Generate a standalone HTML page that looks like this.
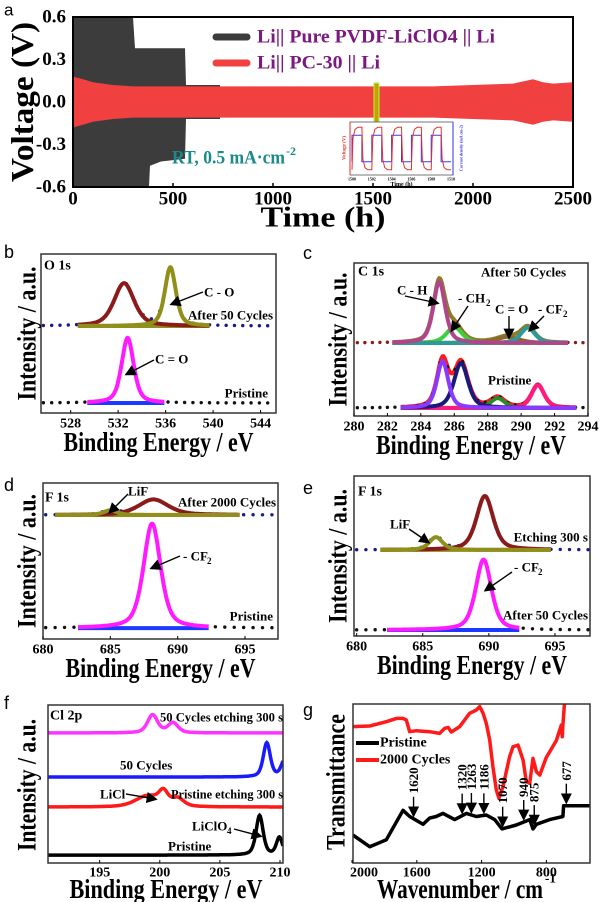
<!DOCTYPE html>
<html><head><meta charset="utf-8"><style>
html,body{margin:0;padding:0;background:#fff;}
svg{display:block;font-family:"Liberation Serif",serif;font-weight:bold;}
.sans{font-family:"Liberation Sans",sans-serif;font-weight:normal;}
</style></head><body>
<svg id="fig" width="606" height="902" viewBox="0 0 606 902" xmlns="http://www.w3.org/2000/svg">
<defs><marker id="ah" markerWidth="8" markerHeight="8" refX="6" refY="4" orient="auto"><path d="M0,0 L8,4 L0,8 Z" fill="#000"/></marker></defs>
</svg>
<script>
// ---------- Panel a data ----------
const aBlackT=[0,30,100,200,300,310,380,385,440,560,565,650,735];
const aBlackUp=[0.6,0.6,0.6,0.6,0.6,0.38,0.38,0.38,0.38,0.38,0.12,0.12,0.12];
const aBlackLo=[-0.6,-0.6,-0.6,-0.6,-0.6,-0.6,-0.6,-0.45,-0.42,-0.4,-0.12,-0.12,-0.12];
const aRedT=[0,50,100,200,300,500,700,1000,1300,1500,1800,2000,2200,2300,2350,2400,2500];
const aRedAmp=[0.18,0.16,0.14,0.12,0.11,0.11,0.11,0.11,0.11,0.11,0.11,0.12,0.13,0.16,0.14,0.13,0.14];
const aXTicks=[0,500,1000,1500,2000,2500];
const aYTicks=[0.6,0.3,0.0,-0.3,-0.6];
const insetCycT=[0,0.1,0.3,0.6,1.0,1.1,1.3,1.6,2.0];
const insetCycV=[-0.2,0.1,0.18,0.2,0.2,-0.1,-0.18,-0.2,-0.2];
const insetCurT=[0,0,1,1,2];
const insetCurV=[-0.5,0.5,0.5,-0.5,-0.5];
// ---------- Panel b (O 1s) ----------
const bTicks=[528,532,536,540,544];
const bUpPeaks=[{c:532.5,h:27,w:1.0,col:"#8b1a1a"},{c:536.4,h:37,w:0.55,col:"#8f8f1a"}];
const bUpBase=54.7;
const bLoPeaks=[{c:532.8,h:41,w:0.6,col:"#ff1aff"}];
const bLoBase=6.3;
// ---------- Panel c (C 1s) ----------
const cTicks=[280,282,284,286,288,290,292,294];
const cUpPeaks=[{c:286.0,h:10.5,w:0.55,col:"#3ccf3c"},{c:289.2,h:4,w:0.8,col:"#8a6a2a"},{c:290.4,h:10,w:0.5,col:"#2a9a9a"},{c:285.1,h:40,w:0.42,col:"#b0468a"}];
const cUpBase=47.7;
const cLoPeaks=[{c:288.6,h:6.5,w:0.5,col:"#2a8a2a"},{c:291.0,h:15,w:0.45,col:"#ff1a80"},{c:286.4,h:29.4,w:0.5,col:"#1a1a7a"},{c:285.3,h:30.7,w:0.4,col:"#8a3aff"}];
const cLoBase=5.2;
// ---------- Panel d (F 1s) ----------
const dTicks=[680,685,690,695];
const dUpPeaks=[{c:688.2,h:10,w:1.3,col:"#8b1a1a"},{c:685.0,h:3,w:0.6,col:"#8f8f1a"}];
const dUpBase=79.5;
const dLoPeaks=[{c:688.1,h:67,w:0.75,col:"#ff1aff"}];
const dLoBase=7;
// ---------- Panel e (F 1s) ----------
const eTicks=[680,685,690,695];
const eUpPeaks=[{c:689.7,h:33.7,w:0.75,col:"#8b1a1a"},{c:686.0,h:8,w:0.6,col:"#8f8f1a"}];
const eUpBase=53.8;
const eLoPeaks=[{c:689.6,h:44,w:0.7,col:"#ff1aff"}];
const eLoBase=3.75;
// ---------- Panel f (Cl 2p) ----------
const fTicks=[195,200,205,210];
const fSeries=[
 {name:"50-cycles-etching",col:"#ff33ff",base:82.3,peaks:[{c:199.4,h:11.4,w:0.5},{c:201.1,h:6.3,w:0.5}]},
 {name:"50-cycles",col:"#1a1aff",base:54.4,peaks:[{c:208.9,h:21.5,w:0.35},{c:210.4,h:11,w:0.35}]},
 {name:"pristine-etching",col:"#ff1a1a",base:35.4,peaks:[{c:199.0,h:7,w:1.2},{c:200.3,h:8,w:0.45},{c:201.5,h:5,w:0.6}]},
 {name:"pristine",col:"#000",base:5,peaks:[{c:208.3,h:25,w:0.35},{c:209.95,h:11,w:0.3}]}
];
// ---------- Panel g (FTIR) ----------
const gTicks=[2000,1600,1200,800];
const gBlackX=[1994,1891,1788,1685,1644,1562,1521,1480,1438,1366,1294,1233,1171,1119,1074,986,903,883,862,780,698,694,533];
const gBlackT=[18,10.5,15,34,30,25,29,30,32,28,32,30,31,28,22,24.5,28,22,25,28,30,37,37];
const gRedX=[1994,1891,1788,1726,1685,1665,1644,1603,1521,1459,1428,1407,1387,1335,1274,1233,1212,1191,1171,1150,1130,1109,1093,1068,1027,1006,975,944,924,903,883,862,841,801,739,708,702,698,687];
const gRedT=[88,88.4,91.2,93.3,93.3,92.3,84.7,85.4,84.7,83.6,86.9,87.5,84.5,88,96.6,98.7,100.9,96.6,90.1,79.4,62.2,47.2,41.8,49.3,68.6,75,76.1,66.4,52.5,51.4,67.5,58.9,56.8,68,79,89,81.5,89,105];
const gMarks=[1620,1320,1263,1186,1070,940,875,677];

const NS="http://www.w3.org/2000/svg";
const svg=document.getElementById('fig');
function el(tag,attrs,parent){const e=document.createElementNS(NS,tag);for(const k in attrs)e.setAttribute(k,attrs[k]);(parent||svg).appendChild(e);return e;}
function txt(s,x,y,size,name,opts){opts=opts||{};const t=el('text',{x:x,y:y,'font-size':size,'dominant-baseline':'central','text-anchor':opts.anchor||'start',fill:opts.fill||'#000'},opts.parent);
 if(opts.len){t.setAttribute('textLength',opts.len);t.setAttribute('lengthAdjust','spacingAndGlyphs');}
 if(opts.rot)t.setAttribute('transform','rotate(-90 '+x+' '+y+')');
 if(opts.cls)t.setAttribute('class',opts.cls);
 t.textContent=s;
 
 
 return t;}
function lin(d0,d1,r0,r1){return v=>r0+(v-d0)*(r1-r0)/(d1-d0);}
function pk(x,p){const z=(x-p.c)/p.w;return p.h*(0.5*Math.exp(-0.693*z*z)+0.5/(1+z*z));}
function pathFrom(xs,ys){return xs.map((x,i)=>(i?'L':'M')+x.toFixed(1)+','+ys[i].toFixed(1)).join(' ');}
function clip(id,x0,y0,x1,y1){const c=el('clipPath',{id:id});el('rect',{x:x0,y:y0,width:x1-x0,height:y1-y0},c);}

// ---------- Panel a ----------
(function(){
 const X0=73,X1=573,Y0=17,Y1=187;
 const x=lin(0,2500,X0,X1), y=lin(-0.6,0.6,Y1,Y0);
 clip('clipA',X0,Y0,X1,Y1);
 const g=el('g',{'clip-path':'url(#clipA)'});
 
 
 const bx=aBlackT.map(x), bu=aBlackUp.map(y), bl=aBlackLo.map(y);
 const bp=el('path',{d:pathFrom(bx,bu)+' '+pathFrom(bx.slice().reverse(),bl.slice().reverse()).replace('M','L')+' Z',fill:'#3c3c3c'},g);
 
 
 const rx=aRedT.map(x), ru=aRedAmp.map(v=>y(v)), rl=aRedAmp.map(v=>y(-v));
 const rp=el('path',{d:pathFrom(rx,ru)+' '+pathFrom(rx.slice().reverse(),rl.slice().reverse()).replace('M','L')+' Z',fill:'#f04040'},g);
 
 
 const hl=el('rect',{x:x(1505),y:83,width:5,height:39,fill:'#c8a000',stroke:'#a0ff40','stroke-width':1});
 
 
 const fr=el('rect',{x:X0,y:Y0,width:X1-X0,height:Y1-Y0,fill:'none',stroke:'#000','stroke-width':2});
 
 
 aXTicks.forEach(v=>{const t=el('line',{x1:x(v),x2:x(v),y1:Y1,y2:Y1-4,stroke:'#000','stroke-width':1.5});
  
  txt(String(v),x(v),199,19,'x-tick-label',{anchor:'middle'});});
 aYTicks.forEach(v=>{txt(v.toFixed(1),66,y(v),19,'y-tick-label',{anchor:'end'});});
 txt('Voltage (V)',22,102,32,'y-axis-title',{anchor:'middle',rot:true,len:160});
 txt('Time (h)',323,218,28,'x-axis-title',{anchor:'middle',len:125});
 txt('a',4,10,17,'panel-label-a',{cls:'sans'});
 // legend
 const l1=el('line',{x1:216,x2:247,y1:37,y2:37,stroke:'#3c3c3c','stroke-width':7,'stroke-linecap':'round'});
 
 const l2=el('line',{x1:216,x2:247,y1:63,y2:63,stroke:'#f04040','stroke-width':7,'stroke-linecap':'round'});
 
 txt('Li|| Pure PVDF-LiClO4 || Li',257,37,19,'legend-entry-pure-pvdf',{fill:'#7a1a80',len:238});
 txt('Li|| PC-30 || Li',257,63,19,'legend-entry-pc30',{fill:'#7a1a80',len:123});
 txt('RT, 0.5 mA·cm',172,158,19,'condition-label',{fill:'#1a8a8a',len:113});
 txt('-2',286,151,12,'condition-superscript',{fill:'#1a8a8a'});
 // inset
 const IX0=350,IX1=453,IY0=122,IY1=175;
 const ig=el('g',{});
 el('rect',{x:IX0,y:IY0,width:IX1-IX0,height:IY1-IY0,fill:'#fff',stroke:'#555','stroke-width':0.8},ig);
 el('line',{x1:IX0,x2:IX0,y1:IY0,y2:IY1,stroke:'#e03030','stroke-width':1},ig);
 el('line',{x1:IX1,x2:IX1,y1:IY0,y2:IY1,stroke:'#3030e0','stroke-width':1},ig);
 const ix=lin(1500,1510,IX0+2,IX1-2), iy=lin(-0.25,0.25,IY1,IY0), ic=lin(-1,1,IY1,IY0);
 let rxs=[],rys=[],cxs=[],cys=[];
 for(let k=0;k<5;k++){insetCycT.forEach((t,i)=>{rxs.push(ix(1500+2*k+t));rys.push(iy(insetCycV[i]));});
  insetCurT.forEach((t,i)=>{cxs.push(ix(1500+2*k+t));cys.push(ic(insetCurV[i]));});}
 const ib=el('path',{d:pathFrom(cxs,cys),fill:'none',stroke:'#3a3ae0','stroke-width':1},ig);
 
 const ir=el('path',{d:pathFrom(rxs,rys),fill:'none',stroke:'#e83030','stroke-width':1},ig);
 
 ['1500','1502','1504','1506','1508','1510'].forEach((s,i)=>txt(s,ix(1500+2*i),179,4,'inset-tick-label',{anchor:'middle',parent:ig}));
 txt('Time (h)',(IX0+IX1)/2,185,6,'inset-x-title',{anchor:'middle',parent:ig});
 txt('Voltage (V)',IX0-5,148,5,'inset-y-title',{anchor:'middle',rot:true,fill:'#e03030',parent:ig});
 txt('Current density (mA cm-2)',IX1+8,148,4,'inset-y2-title',{anchor:'middle',rot:true,fill:'#3030e0',parent:ig});
})();

// ---------- XPS panel builder ----------
function xps(o){
 const x=lin(o.d0,o.d1,o.X0,o.X1), y=lin(0,100,o.Y1,o.Y0);
 const id='clip'+o.key;clip(id,o.X0,o.Y0,o.X1,o.Y1);
 const g=el('g',{'clip-path':'url(#'+id+')'});
 
 
 o.stacks.forEach(st=>{
  const sum=v=>st.base+st.peaks.reduce((a,p)=>a+pk(v,p),0);
  for(let v=o.d0+0.2;v<o.d1;v+=st.dotStep){const c=el('circle',{cx:x(v),cy:y(sum(v)),r:1.7,fill:st.dotCol},g);
   }
  const bl=el('line',{x1:x(st.from),x2:x(st.to),y1:y(st.base),y2:y(st.base),stroke:st.baseCol,'stroke-width':4},g);
  
  st.peaks.forEach(p=>{const xs=[],ys=[];for(let v=st.from;v<=st.to+1e-6;v+=0.05){xs.push(x(v));ys.push(y(st.base+pk(v,p)));}
   const pp=el('path',{d:pathFrom(xs,ys),fill:'none',stroke:p.col,'stroke-width':4,'stroke-linejoin':'round'},g);
   });
  if(st.sumCol){const xs=[],ys=[];for(let v=st.from;v<=st.to+1e-6;v+=0.05){xs.push(x(v));ys.push(y(sum(v)));}
   const sp=el('path',{d:pathFrom(xs,ys),fill:'none',stroke:st.sumCol,'stroke-width':4},g);
   
   g.insertBefore(sp,g.querySelector('path'));}
 });
 const fr=el('rect',{x:o.X0,y:o.Y0,width:o.X1-o.X0,height:o.Y1-o.Y0,fill:'none',stroke:'#333','stroke-width':1.5});
 
 o.ticks.forEach(v=>{const t=el('line',{x1:x(v),x2:x(v),y1:o.Y1,y2:o.Y1-3,stroke:'#000','stroke-width':1});
  
  txt(String(v),x(v),o.Y1+11,14,'x-tick-label',{anchor:'middle'});});
 txt('Binding Energy / eV',(o.X0+o.X1)/2,o.Y1+29,27,'x-axis-title',{anchor:'middle',len:190});
 txt('Intensity / a.u.',o.yx,(o.Y0+o.Y1)/2,26,'y-axis-title',{anchor:'middle',rot:true,len:134});
 txt(o.key,o.lx,o.ly,18,'panel-label-'+o.key,{cls:'sans'});
 return {x,y};
}
function arrow(x1,y1,x2,y2,name){const a=el('line',{x1:x1,y1:y1,x2:x2,y2:y2,stroke:'#000','stroke-width':1.4,'marker-end':'url(#ah)'});
 }

// b
xps({key:'b',d0:525.5,d1:545.3,X0:41,X1:276,Y0:254,Y1:413,ticks:bTicks,yx:27,lx:4,ly:252,stacks:[
 {base:bUpBase,peaks:bUpPeaks,from:528.6,to:539.7,dotStep:0.7,dotCol:'#1a1a8a',baseCol:'#8f8f1a'},
 {base:bLoBase,peaks:bLoPeaks,from:529.4,to:535.9,dotStep:0.7,dotCol:'#111',baseCol:'#1a3aff'}]});
txt('O 1s',44,266,14,'element-label-o1s');
txt('C - O',204,292,13,'annotation-c-o');arrow(203,292,172,304,'arrow-c-o');
txt('After 50 Cycles',273,315,13,'annotation-after-50-cycles',{anchor:'end'});
txt('C = O',155,359,13,'annotation-c-eq-o');arrow(154,360,127,374,'arrow-c-eq-o');
txt('Pristine',268,393,13,'annotation-pristine',{anchor:'end'});

// c
xps({key:'c',d0:280,d1:294,X0:354,X1:588,Y0:263,Y1:416,ticks:cTicks,yx:338,lx:303,ly:253,stacks:[
 {base:cUpBase,peaks:cUpPeaks,from:282.3,to:292.8,dotStep:0.45,dotCol:'#8b1a1a',baseCol:'#9a7a2a',sumCol:'#8f7a2a'},
 {base:cLoBase,peaks:cLoPeaks,from:282.8,to:293.3,dotStep:0.45,dotCol:'#111',baseCol:'#2a7a2a',sumCol:'#ff1a1a'}]});
txt('C 1s',358,272,14,'element-label-c1s');
txt('After 50 Cycles',566,272,13,'annotation-after-50-cycles',{anchor:'end'});
txt('C - H',397,290,13,'annotation-c-h');arrow(405,296,437,303,'arrow-c-h');
txt('- CH',458,298,13,'annotation-ch2');txt('2',486,303,9,'annotation-ch2-subscript');arrow(468,306,452,330,'arrow-ch2');
txt('C = O',495,309,13,'annotation-c-eq-o');arrow(509,316,509,337,'arrow-c-eq-o');
txt('- CF',538,309,13,'annotation-cf2');txt('2',563,314,9,'annotation-cf2-subscript');arrow(544,316,530,330,'arrow-cf2');
txt('Pristine',488,380,13,'annotation-pristine');

// d
xps({key:'d',d0:680,d1:697.45,X0:43,X1:278,Y0:483,Y1:639,ticks:dTicks,yx:27,lx:4,ly:485,stacks:[
 {base:dUpBase,peaks:dUpPeaks,from:680.9,to:694.6,dotStep:0.7,dotCol:'#1a1a8a',baseCol:'#8f8f1a'},
 {base:dLoBase,peaks:dLoPeaks,from:682.6,to:692.3,dotStep:0.7,dotCol:'#111',baseCol:'#1a3aff'}]});
txt('F 1s',45,498,14,'element-label-f1s');
txt('LiF',128,491,13,'annotation-lif');arrow(128,494,110,512,'arrow-lif');
txt('After 2000 Cycles',276,502,13,'annotation-after-2000-cycles',{anchor:'end'});
txt('- CF',183,556,13,'annotation-cf2');txt('2',207,561,9,'annotation-cf2-subscript');arrow(180,556,152,568,'arrow-cf2');
txt('Pristine',273,616,13,'annotation-pristine',{anchor:'end'});

// e
xps({key:'e',d0:679.8,d1:697.65,X0:354,X1:590,Y0:476,Y1:636,ticks:eTicks,yx:338,lx:303,ly:488,stacks:[
 {base:eUpBase,peaks:eUpPeaks,from:681.8,to:694.7,dotStep:0.7,dotCol:'#1a1a8a',baseCol:'#8f8f1a'},
 {base:eLoBase,peaks:eLoPeaks,from:682.3,to:692.3,dotStep:0.7,dotCol:'#111',baseCol:'#1a3aff'}]});
txt('F 1s',358,492,14,'element-label-f1s');
txt('LiF',390,524,13,'annotation-lif');arrow(409,529,428,542,'arrow-lif');
txt('Etching 300 s',588,537,13,'annotation-etching-300s',{anchor:'end'});
txt('- CF',514,567,13,'annotation-cf2');txt('2',538,572,9,'annotation-cf2-subscript');arrow(512,572,486,590,'arrow-cf2');
txt('After 50 Cycles',588,615,13,'annotation-after-50-cycles',{anchor:'end'});

// ---------- Panel f ----------
(function(){
 const X0=48,X1=283,Y0=705,Y1=863;
 const x=lin(190.7,210.25,X0,X1), y=lin(0,100,Y1,Y0);
 clip('clipF',X0,Y0,X1,Y1);
 const g=el('g',{'clip-path':'url(#clipF)'});
 
 fSeries.forEach(s=>{const xs=[],ys=[];for(let v=190.7;v<=210.3;v+=0.05){xs.push(x(v));ys.push(y(s.base+s.peaks.reduce((a,p)=>a+pk(v,p),0)));}
  const p=el('path',{d:pathFrom(xs,ys),fill:'none',stroke:s.col,'stroke-width':3.5},g);
  });
 const fr=el('rect',{x:X0,y:Y0,width:X1-X0,height:Y1-Y0,fill:'none',stroke:'#333','stroke-width':1.5});
 
 fTicks.forEach(v=>{const t=el('line',{x1:x(v),x2:x(v),y1:Y1,y2:Y1-3,stroke:'#000'});
  
  txt(String(v),x(v),873,14,'x-tick-label',{anchor:'middle'});});
 txt('Binding Energy / eV',166,889,27,'x-axis-title',{anchor:'middle',len:193});
 txt('Intensity / a.u.',27,785,26,'y-axis-title',{anchor:'middle',rot:true,len:132});
 txt('f',4,703,18,'panel-label-f',{cls:'sans'});
 txt('Cl 2p',50,716,14,'element-label-cl2p');
 txt('50 Cycles etching 300 s',160,717,13,'label-50-cycles-etching',{len:123});
 txt('50 Cycles',120,765,13,'label-50-cycles');
 txt('LiCl',100,794,13,'annotation-licl');arrow(126,794,155,799,'arrow-licl');
 txt('Pristine etching 300 s',171,794,13,'label-pristine-etching',{len:112});
 txt('LiClO',192,826,13,'annotation-liclo4');txt('4',227,831,9,'annotation-liclo4-subscript');arrow(234,829,260,836,'arrow-liclo4');
 txt('Pristine',168,846,13,'label-pristine');
})();

// ---------- Panel g ----------
(function(){
 const X0=353,X1=590,Y0=704,Y1=863;
 const x=v=>352+(2000-v)*0.162, y=lin(0,102.6,Y1,Y0);
 clip('clipG',X0,Y0,X1,Y1);
 const g=el('g',{'clip-path':'url(#clipG)'});
 
 const r=el('path',{d:pathFrom(gRedX.map(x),gRedT.map(y)),fill:'none',stroke:'#ff1a1a','stroke-width':3.5,'stroke-linejoin':'round'},g);
 
 const b=el('path',{d:pathFrom(gBlackX.map(x),gBlackT.map(y)),fill:'none',stroke:'#000','stroke-width':3.5,'stroke-linejoin':'round'},g);
 
 const fr=el('rect',{x:X0,y:Y0,width:X1-X0,height:Y1-Y0,fill:'none',stroke:'#333','stroke-width':1.5});
 
 gTicks.forEach(v=>{const t=el('line',{x1:x(v),x2:x(v),y1:Y1,y2:Y1-3,stroke:'#000'});
  
  txt(String(v),Math.max(x(v),364),873,14,'x-tick-label',{anchor:'middle'});});
 gMarks.forEach(v=>{
  let i=0;while(i<gBlackX.length-1&&gBlackX[i+1]>v)i++;
  const f=(gBlackX[i]-v)/(gBlackX[i]-gBlackX[i+1]||1);
  const ty=y(gBlackT[i]+(gBlackT[i+1]-gBlackT[i])*f);
  arrow(x(v),ty-22,x(v),ty-4,'peak-arrow-'+v);
  txt(String(v),x(v),ty-24-String(v).length*3.6,13,'peak-label-'+v,{anchor:'middle',rot:true});
 });
 const l1=el('line',{x1:356,x2:379,y1:743,y2:743,stroke:'#000','stroke-width':4});
 
 const l2=el('line',{x1:356,x2:379,y1:760,y2:760,stroke:'#ff1a1a','stroke-width':4});
 
 txt('Pristine',380,743,14,'legend-entry-pristine');
 txt('2000 Cycles',380,760,14,'legend-entry-2000-cycles');
 txt('Wavenumber / cm',460,889,27,'x-axis-title',{anchor:'middle',len:166});
 txt('-1',545,878,13,'x-axis-title-superscript');
 txt('Transmittance',336,782,26,'y-axis-title',{anchor:'middle',rot:true,len:136});
 txt('g',303,710,18,'panel-label-g',{cls:'sans'});
})();
</script>
</body></html>
